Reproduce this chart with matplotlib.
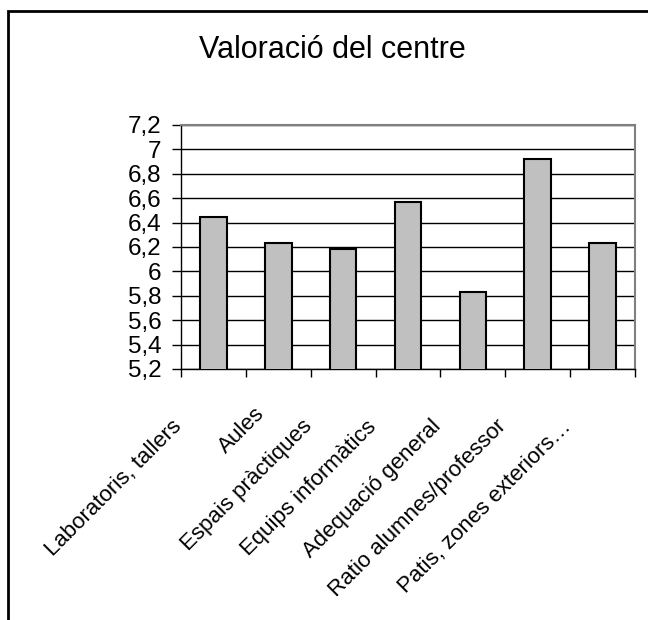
import matplotlib
matplotlib.use("Agg")
import matplotlib.pyplot as plt
import matplotlib.transforms as mtransforms
from matplotlib.patches import Rectangle

# ===============================
# Data
# ===============================
categories = [
    "Laboratoris, tallers",
    "Aules",
    "Espais pràctiques",
    "Equips informàtics",
    "Adequació general",
    "Ratio alumnes/professor",
    "Patis, zones exteriors…",
]
values = [6.45, 6.23, 6.18, 6.57, 5.83, 6.92, 6.23]
y_ticks = [5.2, 5.4, 5.6, 5.8, 6.0, 6.2, 6.4, 6.6, 6.8, 7.0, 7.2]
y_tick_labels = ["5,2", "5,4", "5,6", "5,8", "6", "6,2", "6,4", "6,6", "6,8", "7", "7,2"]

plt.rcParams['font.family'] = ['Liberation Sans', 'DejaVu Sans']

W, H = 648, 620
fig = plt.figure(figsize=(W / 100, H / 100), dpi=100)

# outer chart frame (cut off at right and bottom)
fig.patches.append(Rectangle((8 / W, -0.1), 1.2, 1 - 11 / H + 0.1, fill=False,
                             edgecolor='black', linewidth=2,
                             transform=fig.transFigure))

left, right, top, bottom = 181, 635, 125, 369
ax = fig.add_axes([left / W, 1 - bottom / H, (right - left) / W, (bottom - top) / H])

x = list(range(len(categories)))
ax.bar(x, values, width=0.41, color='#c0c0c0', edgecolor='black',
       linewidth=1.5, zorder=3)

ax.set_xlim(-0.5, len(categories) - 0.5)
ax.set_ylim(5.2, 7.2)
ax.set_yticks(y_ticks)
ax.set_yticklabels(y_tick_labels, fontsize=17.5)
ax.yaxis.grid(True, color='black', linewidth=1)
ax.set_axisbelow(True)

ax.set_xticks(x)
ax.set_xticklabels(categories, fontsize=16, rotation=45, ha='right',
                   va='top', rotation_mode='anchor')
ax.set_xticks([i - 0.5 for i in range(len(categories) + 1)], minor=True)
ax.tick_params(axis='x', which='major', length=0, pad=0)
ax.tick_params(axis='x', which='minor', length=6, width=1, direction='out')
ax.tick_params(axis='y', length=6.5, width=1, direction='out', pad=7.5)

# Excel-style placement of the slanted category labels
for i, lbl in enumerate(ax.get_xticklabels()):
    dx, dy = -0.42, -0.47
    if len(lbl.get_text()) < 8:   # short label sits higher
        dx, dy = -0.24, -0.34
    lbl.set_transform(lbl.get_transform() +
                      mtransforms.ScaledTranslation(dx, dy, fig.dpi_scale_trans))

for side in ['top', 'right']:
    ax.spines[side].set_color('#808080')
    ax.spines[side].set_linewidth(1.5)
for side in ['left', 'bottom']:
    ax.spines[side].set_color('black')
    ax.spines[side].set_linewidth(1)

fig.text(332 / W, 1 - 58 / H, "Valoració del centre", fontsize=22,
         ha='center', va='baseline')

fig.savefig("out.png", dpi=100)
